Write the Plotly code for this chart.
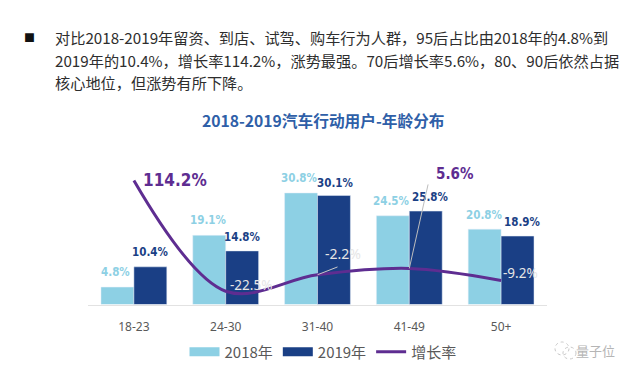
import plotly.graph_objects as go

categories = ["18-23", "24-30", "31-40", "41-49", "50+"]
y2018 = [4.8, 19.1, 30.8, 24.5, 20.8]
y2019 = [10.4, 14.8, 30.1, 25.8, 18.9]
growth = [114.2, -22.5, -2.2, 5.6, -9.2]
body_lines = [
    "对比2018-2019年留资、到店、试驾、购车行为人群，95后占比由2018年的4.8%到",
    "2019年的10.4%，增长率114.2%，涨势最强。70后增长率5.6%，80、90后依然占据",
    "核心地位，但涨势有所下降。",
]
title_text = "2018-2019汽车行动用户-年龄分布"
watermark = "量子位"

W, H = 640, 376
L, R, B = 88, 547, 304.5
CJK = "Noto Sans CJK SC"
NARROW = "DejaVu Sans Condensed, Roboto, sans-serif"
LIGHT, DARK, PURPLE = "#8dd0e4", "#1a3f85", "#5e2d91"
PALE = "#e6e6e6"

fig = go.Figure()
fig.add_bar(x=categories, y=y2018, name="2018年", marker_color=LIGHT, yaxis="y", showlegend=False)
fig.add_bar(x=categories, y=y2019, name="2019年", marker_color=DARK, yaxis="y", showlegend=False)
fig.add_scatter(x=[None], y=[None], name="2018年", mode="lines", line=dict(color=LIGHT, width=9))
fig.add_scatter(x=[None], y=[None], name="2019年", mode="lines", line=dict(color=DARK, width=9))
fig.add_scatter(x=categories, y=growth, name="增长率", mode="lines", yaxis="y2",
                line=dict(color=PURPLE, width=3, shape="spline", smoothing=1.0))


def px(x, y, text, size, color, font=CJK, bold=False, anchor="left"):
    fig.add_annotation(xref="paper", yref="paper", x=x / W, y=1 - y / H,
                       text=f"<b>{text}</b>" if bold else text, showarrow=False,
                       xanchor=anchor, yanchor="middle",
                       font=dict(family=font, size=size, color=color))


for t, y in zip(body_lines, [37, 60, 82]):
    px(53, y, t, 15.2, "#2e2e2e")
px(29, 37, "■", 11, "#111111", anchor="center")
px(323, 120, title_text, 15.7, "#2f5fa8", bold=True, anchor="center")
px(595, 350, watermark, 13, "#b5b5b5", anchor="center")

# value labels
light_offsets = [(-18, 15), (-17, 15), (-18, 15), (-18, 15), (-17, 14)]
dark_offsets = [(17, 15), (17, 14), (18, 13), (21, 14), (21, 14)]
for c, v, (dx, dy) in zip(categories, y2018, light_offsets):
    fig.add_annotation(x=c, y=v, yref="y", text=f"<b>{v}%</b>", showarrow=False, xshift=dx, yshift=dy,
                       font=dict(family=NARROW, size=11.5, color=LIGHT))
for c, v, (dx, dy) in zip(categories, y2019, dark_offsets):
    fig.add_annotation(x=c, y=v, yref="y", text=f"<b>{v}%</b>", showarrow=False, xshift=dx, yshift=dy,
                       font=dict(family=NARROW, size=11.5, color=DARK))

# growth labels
fig.add_annotation(x="18-23", y=114.2, yref="y2", text="<b>114.2%</b>", showarrow=False,
                   xshift=41, yshift=0, font=dict(family=NARROW, size=17, color=PURPLE))
fig.add_annotation(x="24-30", y=-22.5, yref="y2", text="-22.5%", showarrow=False,
                   xshift=25, yshift=6, font=dict(family="Noto Sans", size=13.5, color=PALE))
fig.add_annotation(x="31-40", y=-2.2, yref="y2", text="-2.2%", showarrow=False,
                   xshift=25, yshift=21, font=dict(family="Noto Sans", size=14, color=PALE))
fig.add_annotation(x="31-40", y=-2.2, yref="y2", text=" ", showarrow=True, arrowhead=0,
                   arrowwidth=1, arrowcolor="#c8c8c8", ax=23, ay=-9, standoff=0)
fig.add_annotation(x="41-49", y=5.6, yref="y2", text=" ", showarrow=True, arrowhead=0,
                   arrowwidth=1, arrowcolor="#bdbdbd", ax=21, ay=-94, standoff=0)
fig.add_annotation(x="41-49", y=5.6, yref="y2", text=" ", showarrow=True, arrowhead=0, xshift=21, yshift=94,
                   arrowwidth=1, arrowcolor="#bdbdbd", ax=7, ay=0, standoff=0)
fig.add_annotation(x="41-49", y=5.6, yref="y2", text="<b>5.6%</b>", showarrow=False, xshift=46, yshift=94,
                   font=dict(family=NARROW, size=15, color=PURPLE))
fig.add_annotation(x="50+", y=-9.2, yref="y2", text="-9.2%", showarrow=False,
                   xshift=19, yshift=7, font=dict(family="Noto Sans", size=13.5, color=PALE))

# watermark icon
for x0, y0, x1, y1 in [(555, 342, 569, 355), (563, 347, 576, 359)]:
    fig.add_shape(type="circle", xref="paper", yref="paper",
                  x0=x0 / W, x1=x1 / W, y0=1 - y1 / H, y1=1 - y0 / H,
                  line=dict(color="#c9c9c9", width=1, dash="dot"))

fig.update_layout(
    width=W, height=H, autosize=False,
    margin=dict(l=0, r=0, t=0, b=0, pad=0),
    paper_bgcolor="white", plot_bgcolor="white",
    barmode="group", bargap=0.283, bargroupgap=0,
    font=dict(family=CJK),
    xaxis=dict(domain=[L / W, R / W], showline=True, linecolor="#e2e2e2", linewidth=1, ticks="",
               tickfont=dict(family="Noto Sans", size=12, color="#595959"), showgrid=False,
               automargin=False, ticklabelstandoff=11),
    yaxis=dict(domain=[1 - B / H, 1], range=[0, 84.1], visible=False, fixedrange=True),
    yaxis2=dict(domain=[1 - B / H, 1], range=[-38.9, 337], overlaying="y", visible=False, fixedrange=True),
    legend=dict(orientation="h", x=323 / W, xanchor="center",
                y=1 - 352 / H, yanchor="middle", font=dict(family=CJK, size=15, color="#595959"),
                bgcolor="rgba(0,0,0,0)", itemwidth=30, tracegroupgap=0),
    showlegend=True,
)
fig.write_html("out.html", config=dict(displayModeBar=False),
               post_script="document.body.style.margin='0';")
